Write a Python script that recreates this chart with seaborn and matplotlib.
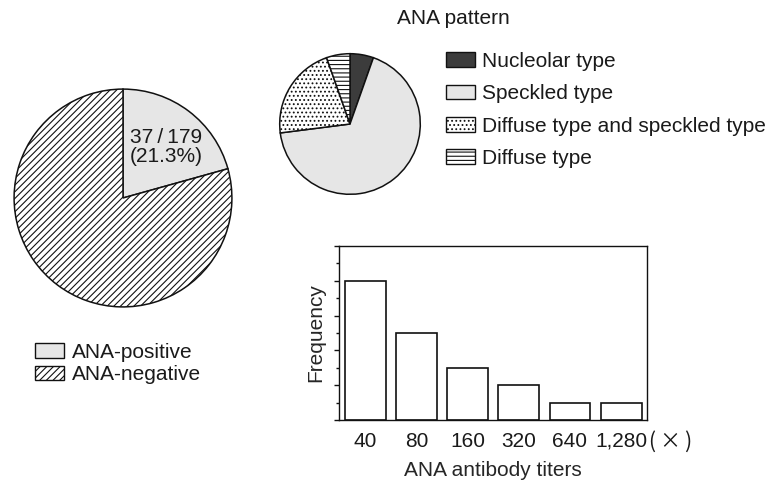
import matplotlib
matplotlib.use("Agg")
import matplotlib.pyplot as plt
from matplotlib.patches import Patch
from matplotlib.ticker import MultipleLocator
import seaborn as sns
import pandas as pd

# ---- data ----
overall_labels = ["ANA-positive", "ANA-negative"]
overall_counts = [37, 142]
overall_text = "37\u2009/\u2009179\n(21.3%)"

pattern_labels = ["Nucleolar type", "Speckled type",
                  "Diffuse type and speckled type", "Diffuse type"]
pattern_counts = [2, 25, 8, 2]

titer_labels = ["40", "80", "160", "320", "640", "1,280"]
titer_freq = [8, 5, 3, 2, 1, 1]

# ---- style ----
sns.set_theme(style="white")
plt.rcParams["font.family"] = ["Liberation Sans", "DejaVu Sans"]
plt.rcParams["hatch.linewidth"] = 0.8
plt.rcParams["hatch.color"] = "black"
plt.rcParams["text.color"] = "#1a1a1a"

W, H = 775, 487
fig = plt.figure(figsize=(W / 100, H / 100), dpi=100)
FS = 15
EDGE = "#111111"
LIGHT = "#e6e6e6"
DARK = "#3c3c3c"


def px_axes(left, top, width, height):
    return fig.add_axes([left / W, 1 - (top + height) / H, width / W, height / H])


# ---- big pie ----
ax1 = px_axes(13, 88, 220, 220)
ax1.pie(overall_counts, startangle=90, counterclock=False,
        colors=[LIGHT, "white"], hatch=["", "/////"],
        wedgeprops=dict(edgecolor=EDGE, linewidth=1.1))
ax1.set_xlim(-1.01, 1.01)
ax1.set_ylim(-1.01, 1.01)
ax1.text(0.064, 0.47, overall_text, ha="left", va="center",
         multialignment="left", linespacing=1.0, fontsize=FS)

h1 = [Patch(facecolor=LIGHT, edgecolor=EDGE, linewidth=1),
      Patch(facecolor="white", edgecolor=EDGE, hatch="/////", linewidth=1)]
fig.legend(h1, overall_labels, loc="upper left",
           bbox_to_anchor=(35 / W, 1 - 343 / H), frameon=False, fontsize=FS,
           handlelength=1.4, handleheight=0.7, handletextpad=0.35,
           labelspacing=0.15, borderpad=0, borderaxespad=0)

# ---- small pie ----
ax2 = px_axes(279, 53, 142, 142)
ax2.pie(pattern_counts, startangle=90, counterclock=False,
        colors=[DARK, LIGHT, "white", "white"], hatch=["", "", "....", "----"],
        wedgeprops=dict(edgecolor=EDGE, linewidth=1.1))
ax2.set_xlim(-1.01, 1.01)
ax2.set_ylim(-1.01, 1.01)
fig.text(453 / W, 1 - 18 / H, "ANA pattern", ha="center", va="center", fontsize=FS)

h2 = [Patch(facecolor=DARK, edgecolor=EDGE, linewidth=1),
      Patch(facecolor=LIGHT, edgecolor=EDGE, linewidth=1),
      Patch(facecolor="white", edgecolor=EDGE, hatch="....", linewidth=1),
      Patch(facecolor="white", edgecolor=EDGE, hatch="----", linewidth=1)]
fig.legend(h2, pattern_labels, loc="upper left",
           bbox_to_anchor=(446 / W, 1 - 52 / H), frameon=False, fontsize=FS,
           handlelength=1.4, handleheight=0.7, handletextpad=0.35,
           labelspacing=0.64, borderpad=0, borderaxespad=0)

# ---- bar chart ----
ax3 = px_axes(339.3, 246, 307.4, 174)
df = pd.DataFrame({"titer": titer_labels, "freq": titer_freq})
sns.barplot(data=df, x="titer", y="freq", color="white", saturation=1,
            edgecolor=EDGE, linewidth=1.2, width=0.8, ax=ax3)
ax3.set_xlim(-0.51, 5.5)
ax3.set_ylim(0, 10)
ax3.yaxis.set_major_locator(MultipleLocator(2))
ax3.yaxis.set_minor_locator(MultipleLocator(1))
ax3.tick_params(axis="y", which="major", left=True, length=3.4, width=1,
                color=EDGE, labelleft=False)
ax3.tick_params(axis="y", which="minor", left=True, length=1.9, width=1,
                color=EDGE)
ax3.tick_params(axis="x", length=0, pad=8.5, labelsize=FS, labelcolor="#1a1a1a")
for s in ax3.spines.values():
    s.set_visible(True)
    s.set_color(EDGE)
    s.set_linewidth(1)
ax3.set_xlabel("ANA antibody titers", fontsize=FS)
ax3.set_ylabel("Frequency", fontsize=FS)
ax3.xaxis.set_label_coords(0.5, -0.235)
ax3.yaxis.set_label_coords(-0.047, 0.5)
ax3.text(1.0 + 2 / 307.4, -0.124, "(\u2009\u00d7\u2009)", ha="left", va="center",
         transform=ax3.transAxes, fontsize=FS,
         family=["Noto Sans CJK JP", "DejaVu Sans"])

fig.savefig("out.png", dpi=100)
